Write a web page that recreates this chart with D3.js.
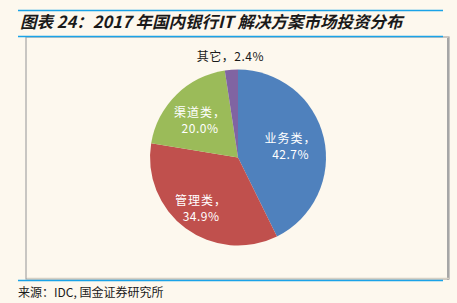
<!DOCTYPE html>
<html>
<head>
<meta charset="utf-8">
<script src="https://cdn.jsdelivr.net/npm/d3@7"></script>
<style>
  html, body { margin: 0; padding: 0; background: #fdf8ee; }
  svg { display: block; }
</style>
</head>
<body>
<svg id="chart" width="457" height="303"></svg>
<script>
const categories = ['业务类', '管理类', '渠道类', '其它'];
const shares = [42.7, 34.9, 20.0, 2.4];
const colors = ['#4f81bd', '#c0504d', '#9bbb59', '#8064a2'];
const titleText = '图表 24：2017 年国内银行IT 解决方案市场投资分布';
const sourceText = '来源：IDC, 国金证券研究所';

const width = 457, height = 303;
const cx = 238, cy = 157.5, R = 88;

const svg = d3.select('#chart');
const cjk = '"Noto Sans CJK SC", "Noto Sans", sans-serif';

// frame: blue rules + grey box
svg.append('rect')
  .attr('x', 26).attr('y', 37).attr('width', 423).attr('height', 242)
  .attr('fill', '#fdf8ee').attr('stroke', '#a6a6a6').attr('stroke-width', 1.2);
svg.append('line').attr('x1', 448).attr('x2', 448).attr('y1', 38).attr('y2', 280)
  .attr('stroke', '#a6a6a6').attr('stroke-width', 2);
svg.append('line').attr('x1', 27).attr('x2', 449).attr('y1', 278.5).attr('y2', 278.5)
  .attr('stroke', '#d6d0c4').attr('stroke-width', 1.5);

[10.5, 36.5, 280.5].forEach(y => {
  svg.append('line')
    .attr('x1', 18).attr('x2', 443).attr('y1', y).attr('y2', y)
    .attr('stroke', '#1aa3e8').attr('stroke-width', 1.5);
});

svg.append('text')
  .attr('x', 20).attr('y', 28)
  .attr('font-family', cjk)
  .attr('font-size', 16.5)
  .attr('font-weight', 'bold')
  .attr('font-style', 'italic')
  .attr('fill', '#1a1a1a')
  .text(titleText);

svg.append('text')
  .attr('x', 18).attr('y', 297)
  .attr('font-family', cjk)
  .attr('font-size', 12)
  .attr('fill', '#1a1a1a')
  .text(sourceText);

// pie
const data = categories.map((c, i) => ({ name: c, value: shares[i], color: colors[i] }));
const pie = d3.pie().sort(null).value(d => d.value);
const arcs = pie(data);
const arc = d3.arc().innerRadius(0).outerRadius(R);

const g = svg.append('g').attr('transform', `translate(${cx},${cy})`);

g.selectAll('path')
  .data(arcs)
  .join('path')
  .attr('d', arc)
  .attr('fill', d => d.data.color);

const inner = arcs.filter(d => d.data.value > 5);
const labelR = [54, 62, 54];
const lab = g.selectAll('g.lab')
  .data(inner)
  .join('g')
  .attr('class', 'lab')
  .attr('transform', (d, i) => {
    const a = (d.startAngle + d.endAngle) / 2;
    return `translate(${Math.sin(a) * labelR[i]},${-Math.cos(a) * labelR[i]})`;
  });

lab.append('text')
  .attr('text-anchor', 'middle')
  .attr('y', -2)
  .attr('font-family', cjk)
  .attr('font-size', 12)
  .attr('letter-spacing', 1)
  .attr('fill', '#fff')
  .text(d => d.data.name + '，');

lab.append('text')
  .attr('text-anchor', 'middle')
  .attr('y', 14)
  .attr('font-family', cjk)
  .attr('font-size', 12)
  .attr('letter-spacing', 0.5)
  .attr('fill', '#fff')
  .text(d => d3.format('.1f')(d.data.value) + '%');

// small slice label outside
arcs.filter(d => d.data.value <= 5).forEach(d => {
  const a = (d.startAngle + d.endAngle) / 2;
  const r = R + 13;
  g.append('text')
    .attr('x', Math.sin(a) * r)
    .attr('y', -Math.cos(a) * r + 4)
    .attr('text-anchor', 'middle')
    .attr('font-family', cjk)
    .attr('font-size', 12)
    .attr('letter-spacing', 0.5)
    .attr('fill', '#1a1a1a')
    .text(d.data.name + '，' + d3.format('.1f')(d.data.value) + '%');
});
</script>
</body>
</html>
